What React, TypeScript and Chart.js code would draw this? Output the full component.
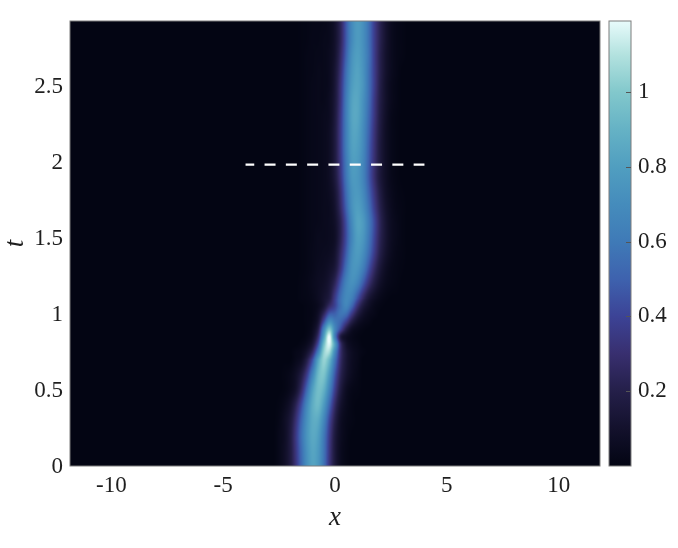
import React, { useEffect, useRef } from "react";
import { Chart, registerables } from "chart.js";

Chart.register(...registerables);

const xTicks = [-10, -5, 0, 5, 10];
const tTicks = [0, 0.5, 1, 1.5, 2, 2.5];
const barTicks = [0.2, 0.4, 0.6, 0.8, 1];
const dashX = [-4, 4];
const dashT = [1.98, 1.98];
const xLimit = 11.85;
const tLimit = 2.924;
const barLimit = 1.19;

const gridX = [-2.5, -2.25, -2, -1.75, -1.5, -1.25, -1, -0.75, -0.5, -0.25, 0, 0.25, 0.5, 0.75, 1, 1.25, 1.5, 1.75, 2, 2.25, 2.5, 2.75, 3];
const gridT = [0, 0.1, 0.2, 0.3, 0.4, 0.5, 0.6, 0.7, 0.75, 0.8, 0.85, 0.9, 0.95, 1, 1.05, 1.1, 1.2, 1.3, 1.4, 1.5, 1.6, 1.7, 1.8, 1.9, 2, 2.1, 2.2, 2.3, 2.4, 2.5, 2.6, 2.7, 2.8, 2.95];
const heat = [
  [.03,.08,.17,.33,.53,.72,.82,.76,.57,.33,.15,.05,.015,0,0,0,0,0,0,0,0,0,0],
  [.03,.08,.17,.34,.54,.73,.83,.77,.58,.34,.15,.05,.015,0,0,0,0,0,0,0,0,0,0],
  [.03,.07,.17,.35,.56,.75,.85,.80,.60,.36,.16,.06,.02,0,0,0,0,0,0,0,0,0,0],
  [.02,.07,.15,.31,.52,.73,.86,.85,.67,.41,.20,.07,.025,.01,0,0,0,0,0,0,0,0,0],
  [.01,.04,.10,.23,.43,.68,.87,.93,.78,.52,.27,.11,.04,.01,0,0,0,0,0,0,0,0,0],
  [0,.01,.04,.11,.28,.54,.81,.95,.89,.65,.37,.17,.06,.02,.01,0,0,0,0,0,0,0,0],
  [0,.01,.03,.08,.18,.37,.66,.93,.98,.77,.46,.23,.11,.05,.02,0,0,0,0,0,0,0,0],
  [0,0,0,.03,.07,.20,.44,.82,1.04,.92,.58,.28,.13,.06,.03,0,0,0,0,0,0,0,0],
  [0,0,0,.02,.04,.11,.27,.62,1.03,1.07,.68,.30,.13,.06,.03,.01,0,0,0,0,0,0,0],
  [0,0,0,0,.015,.05,.15,.44,.95,1.17,.80,.30,.10,.04,.02,0,0,0,0,0,0,0,0],
  [0,0,0,0,0,.02,.08,.30,.80,1.19,.62,.18,.07,.03,.01,0,0,0,0,0,0,0,0],
  [0,0,0,0,0,.01,.05,.20,.65,.98,.66,.42,.20,.07,.03,.01,0,0,0,0,0,0,0],
  [0,0,0,0,0,.01,.03,.12,.42,.70,.60,.52,.38,.20,.09,.04,.02,0,0,0,0,0,0],
  [0,0,0,0,0,.01,.02,.08,.25,.47,.50,.58,.55,.36,.19,.09,.04,.02,0,0,0,0,0],
  [0,0,0,0,0,.01,.02,.05,.13,.28,.40,.56,.66,.52,.31,.16,.08,.03,.01,0,0,0,0],
  [0,0,0,0,.01,.015,.03,.06,.11,.18,.37,.56,.68,.63,.45,.27,.14,.07,.03,.01,0,0,0],
  [0,0,0,0,.01,.02,.04,.06,.08,.13,.25,.46,.65,.72,.65,.48,.31,.18,.09,.04,.02,.01,0],
  [0,0,0,0,.005,.015,.03,.05,.06,.09,.15,.33,.56,.73,.74,.63,.45,.28,.15,.07,.03,.015,.005],
  [0,0,0,0,.005,.015,.03,.04,.05,.06,.11,.27,.48,.70,.78,.71,.55,.37,.21,.11,.05,.02,.01],
  [0,0,0,0,.005,.015,.025,.04,.04,.05,.08,.22,.43,.66,.80,.76,.60,.41,.24,.13,.06,.03,.01],
  [0,0,0,0,.005,.015,.025,.03,.04,.05,.09,.22,.44,.68,.82,.78,.62,.43,.25,.13,.06,.03,.01],
  [0,0,0,0,.005,.015,.025,.03,.04,.05,.11,.27,.50,.72,.80,.73,.57,.38,.22,.11,.05,.02,.01],
  [0,0,0,0,.005,.015,.025,.03,.04,.06,.13,.30,.54,.73,.77,.69,.52,.34,.19,.09,.04,.015,.005],
  [0,0,0,0,.005,.015,.025,.03,.04,.07,.16,.34,.58,.76,.76,.66,.48,.30,.16,.08,.03,.01,0],
  [0,0,0,0,.005,.015,.025,.03,.04,.07,.17,.36,.60,.78,.78,.67,.49,.31,.17,.08,.03,.01,0],
  [0,0,0,0,.005,.015,.025,.03,.04,.07,.17,.37,.62,.80,.80,.69,.50,.32,.17,.08,.03,.01,0],
  [0,0,0,0,.005,.015,.025,.03,.04,.07,.17,.37,.62,.81,.82,.70,.52,.33,.18,.08,.03,.01,0],
  [0,0,0,0,.005,.015,.025,.03,.04,.06,.16,.36,.62,.82,.84,.72,.54,.35,.19,.09,.03,.01,0],
  [0,0,0,0,.005,.015,.025,.03,.03,.06,.15,.34,.61,.81,.84,.73,.56,.36,.20,.10,.04,.015,0],
  [0,0,0,0,.005,.015,.025,.03,.03,.05,.14,.33,.58,.78,.83,.75,.57,.38,.21,.10,.04,.015,0],
  [0,0,0,0,.005,.015,.02,.03,.03,.05,.13,.30,.55,.75,.82,.74,.57,.38,.22,.11,.05,.02,0],
  [0,0,0,0,.005,.015,.02,.025,.03,.05,.11,.27,.50,.72,.80,.73,.58,.38,.22,.11,.05,.02,.01],
  [0,0,0,0,.005,.01,.02,.02,.03,.04,.10,.24,.47,.68,.78,.72,.57,.38,.23,.12,.05,.02,.01],
  [0,0,0,0,.005,.01,.015,.02,.02,.04,.10,.24,.47,.68,.78,.72,.57,.38,.23,.12,.05,.02,.01],
];

const mapValues = [0, 0.1, 0.2, 0.3, 0.4, 0.5, 0.6, 0.7, 0.8, 0.9, 1, 1.1, 1.19];
const mapColors = ["#030513", "#13112c", "#241f49", "#382f6f", "#3c4396", "#3e62ae", "#3f7ab7", "#458cbc", "#509ec0", "#65b2c5", "#82c8cc", "#b3e2df", "#e8fbfb"];

const TEXT = "#1f1f1f";
const EDGE = "#7d7d7d";
const FONT = '"Liberation Serif", serif';

const hexRgb = (h: string) => [1, 3, 5].map((i) => parseInt(h.slice(i, i + 2), 16));
const mapRgb = mapColors.map(hexRgb);

function colorOf(v: number): number[] {
  const c = Math.min(barLimit, Math.max(0, v));
  let i = 0;
  while (i < mapValues.length - 2 && c > mapValues[i + 1]) i++;
  const f = (c - mapValues[i]) / (mapValues[i + 1] - mapValues[i]);
  return [0, 1, 2].map((k) => mapRgb[i][k] + (mapRgb[i + 1][k] - mapRgb[i][k]) * f);
}

const cubic = (a: number, b: number, c: number, d: number, f: number) =>
  b + 0.5 * f * (c - a + f * (2 * a - 5 * b + 4 * c - d + f * (3 * (b - c) + d - a)));

function sampleHeat(x: number, t: number): number {
  const step = gridX[1] - gridX[0];
  const fx = (x - gridX[0]) / step;
  if (fx < -1 || fx > gridX.length) return 0;
  let r = 0;
  while (r < gridT.length - 2 && t > gridT[r + 1]) r++;
  const ft = Math.min(1, Math.max(0, (t - gridT[r]) / (gridT[r + 1] - gridT[r])));
  const ix = Math.floor(fx);
  const gx = fx - ix;
  const rowAt = (n: number) => {
    const row = heat[Math.min(heat.length - 1, Math.max(0, n))];
    const at = (k: number) => (k < 0 || k >= row.length ? 0 : row[k]);
    return cubic(at(ix - 1), at(ix), at(ix + 1), at(ix + 2), gx);
  };
  return Math.max(0, cubic(rowAt(r - 1), rowAt(r), rowAt(r + 1), rowAt(r + 2), ft));
}

const heatPlugin = {
  id: "heatField",
  beforeDatasetsDraw(chart: any) {
    const { ctx, chartArea: a, scales } = chart;
    const left = Math.round(a.left), top = Math.round(a.top);
    const w = Math.round(a.right - a.left), h = Math.round(a.bottom - a.top);
    const off = document.createElement("canvas");
    off.width = w;
    off.height = h;
    const octx = off.getContext("2d")!;
    const img = octx.createImageData(w, h);
    for (let py = 0; py < h; py++) {
      const t = scales.y.getValueForPixel(top + py + 0.5);
      for (let px = 0; px < w; px++) {
        const x = scales.x.getValueForPixel(left + px + 0.5);
        const rgb = colorOf(sampleHeat(x, t));
        const o = (py * w + px) * 4;
        img.data[o] = rgb[0];
        img.data[o + 1] = rgb[1];
        img.data[o + 2] = rgb[2];
        img.data[o + 3] = 255;
      }
    }
    octx.putImageData(img, 0, 0);
    ctx.drawImage(off, left, top);
  },
  afterDraw(chart: any) {
    const { ctx, chartArea: a, scales } = chart;
    const bar = scales.yBar;
    const left = a.right + 9;
    const right = a.right + 31;
    const top = bar.getPixelForValue(barLimit);
    const bottom = bar.getPixelForValue(0);
    const g = ctx.createLinearGradient(0, bottom, 0, top);
    mapValues.forEach((v, i) => g.addColorStop(v / barLimit, mapColors[i]));
    ctx.save();
    ctx.fillStyle = g;
    ctx.fillRect(left, top, right - left, bottom - top);
    ctx.strokeStyle = EDGE;
    ctx.lineWidth = 1;
    ctx.strokeRect(left, top, right - left, bottom - top);
    ctx.strokeRect(a.left, a.top, a.right - a.left, a.bottom - a.top);
    ctx.strokeStyle = "#555555";
    barTicks.forEach((v) => {
      const y = Math.round(bar.getPixelForValue(v)) + 0.5;
      ctx.beginPath();
      ctx.moveTo(right - 5, y);
      ctx.lineTo(right, y);
      ctx.stroke();
    });
    ctx.restore();
  },
};

export default function App() {
  const ref = useRef<HTMLCanvasElement | null>(null);
  useEffect(() => {
    const font = { family: FONT, size: 23 };
    const mathFont = { family: FONT, size: 27, style: "italic" };
    const chart = new Chart(ref.current!, {
      type: "scatter",
      data: {
        datasets: [
          {
            type: "line",
            data: dashX.map((x, i) => ({ x, y: dashT[i] })),
            borderColor: "#ffffff",
            borderWidth: 2.4,
            borderDash: [11, 10.3],
            borderDashOffset: 2.3,
            pointRadius: 0,
            fill: false,
          },
        ],
      },
      options: {
        responsive: false,
        animation: false,
        layout: { padding: { top: 21, right: 0, left: 0, bottom: 0 } },
        plugins: { legend: { display: false }, tooltip: { enabled: false } },
        scales: {
          x: {
            type: "linear",
            min: -xLimit,
            max: xLimit,
            grid: { display: false, drawTicks: false },
            border: { display: false },
            afterBuildTicks: (s: any) => { s.ticks = xTicks.map((value) => ({ value })); },
            afterFit: (s: any) => { s.height = 82; },
            ticks: { font, color: TEXT, padding: 6, maxRotation: 0, callback: (v: any) => String(v) },
            title: { display: true, text: "x", color: TEXT, font: mathFont, padding: { top: 0, bottom: 14 } },
          },
          y: {
            type: "linear",
            min: 0,
            max: tLimit,
            grid: { display: false, drawTicks: false },
            border: { display: false },
            afterBuildTicks: (s: any) => { s.ticks = tTicks.map((value) => ({ value })); },
            afterFit: (s: any) => { s.width = 70; },
            ticks: { font, color: TEXT, padding: 7, labelOffset: 1, callback: (v: any) => String(v) },
            title: { display: true, text: "t", color: TEXT, font: mathFont, padding: { top: 0, bottom: 0 } },
          },
          yBar: {
            type: "linear",
            axis: "y",
            position: "right",
            min: 0,
            max: barLimit,
            grid: { display: false, drawTicks: false },
            border: { display: false },
            afterBuildTicks: (s: any) => { s.ticks = barTicks.map((value) => ({ value })); },
            afterFit: (s: any) => { s.width = 78; s.paddingTop = 0; s.paddingBottom = 0; },
            ticks: { font, color: TEXT, padding: 38, labelOffset: 0, callback: (v: any) => String(v) },
          },
        },
      } as any,
      plugins: [heatPlugin],
    } as any);
    return () => chart.destroy();
  }, []);
  return (
    <div style={{ position: "fixed", left: 0, top: 0, width: 678, height: 548, background: "#fff" }}>
      <canvas ref={ref} width={678} height={548} style={{ display: "block" }} />
    </div>
  );
}
